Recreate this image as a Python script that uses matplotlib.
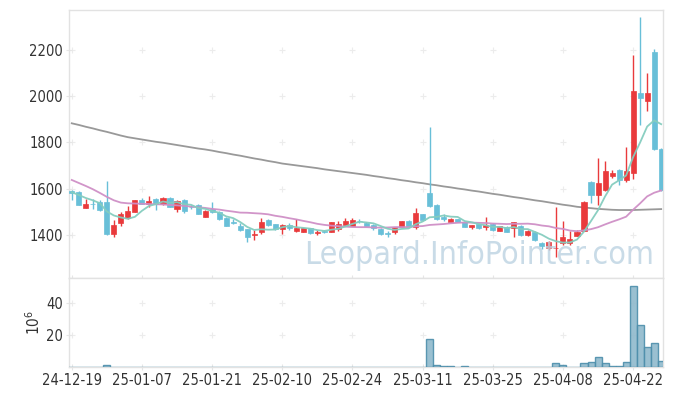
import pandas as pd
import matplotlib
matplotlib.use('Agg')
import matplotlib.pyplot as plt

# daily candles, 24-12-19 .. 25-04-28 (trading days only)
opens = [1590, 1587, 1518, 1535, 1544, 1544, 1404, 1453, 1475, 1501,
         1551, 1534, 1556, 1534, 1559, 1512, 1551, 1522, 1530, 1479,
         1511, 1501, 1474, 1455, 1438, 1425, 1400, 1411, 1465, 1446,
         1425, 1443, 1419, 1414, 1429, 1408, 1419, 1414, 1426, 1443,
         1439, 1461, 1453, 1443, 1428, 1408, 1414, 1436, 1460, 1436,
         1490, 1583, 1530, 1479, 1458, 1469, 1455, 1433, 1448, 1436,
         1447, 1419, 1436, 1429, 1439, 1400, 1414, 1367, 1343, 1342,
         1364, 1364, 1396, 1419, 1630, 1573, 1595, 1653, 1681, 1638,
         1670, 2013, 1981, 2193, 1771]
highs = [1595, 1592, 1554, 1555, 1550, 1633, 1465, 1500, 1525, 1553,
         1560, 1567, 1558, 1565, 1563, 1550, 1555, 1530, 1533, 1506,
         1544, 1505, 1476, 1470, 1450, 1428, 1420, 1472, 1467, 1449,
         1447, 1452, 1469, 1431, 1431, 1420, 1423, 1457, 1460, 1475,
         1475, 1470, 1456, 1449, 1430, 1418, 1436, 1462, 1463, 1515,
         1492, 1866, 1532, 1490, 1472, 1471, 1458, 1445, 1450, 1476,
         1450, 1441, 1438, 1457, 1442, 1422, 1417, 1371, 1375, 1523,
         1462, 1419, 1420, 1546, 1632, 1734, 1720, 1680, 1684, 1782,
         2178, 2341, 2099, 2203, 1775]
lows = [1551, 1528, 1515, 1513, 1505, 1399, 1393, 1440, 1470, 1498,
        1532, 1523, 1508, 1530, 1520, 1500, 1495, 1513, 1489, 1476,
        1495, 1466, 1437, 1447, 1418, 1371, 1377, 1405, 1441, 1420,
        1404, 1421, 1415, 1412, 1403, 1400, 1408, 1412, 1418, 1440,
        1438, 1452, 1437, 1422, 1400, 1392, 1405, 1434, 1437, 1425,
        1463, 1522, 1466, 1462, 1456, 1455, 1433, 1428, 1426, 1420,
        1418, 1416, 1411, 1393, 1397, 1397, 1376, 1339, 1336, 1305,
        1358, 1358, 1394, 1417, 1538, 1530, 1590, 1648, 1616, 1630,
        1640, 1876, 1936, 1768, 1590]
closes = [1583, 1530, 1534, 1533, 1508, 1404, 1443, 1491, 1504, 1551,
          1534, 1547, 1533, 1559, 1523, 1547, 1504, 1520, 1491, 1504,
          1499, 1469, 1440, 1453, 1420, 1393, 1403, 1455, 1443, 1424,
          1443, 1429, 1429, 1429, 1407, 1411, 1412, 1455, 1448, 1460,
          1465, 1459, 1439, 1429, 1403, 1406, 1433, 1460, 1439, 1494,
          1465, 1525, 1469, 1469, 1469, 1458, 1436, 1443, 1430, 1443,
          1421, 1439, 1414, 1455, 1400, 1419, 1378, 1352, 1371, 1345,
          1390, 1381, 1414, 1544, 1573, 1625, 1677, 1670, 1638, 1677,
          2023, 1994, 2013, 1771, 1595]
# volume in millions
volumes = [0.1, 0.1, 0.1, 0.1, 0.1, 0.8, 0.1, 0.1, 0.1, 0.1,
           0.1, 0.1, 0.1, 0.1, 0.1, 0.1, 0.1, 0.1, 0.1, 0.1,
           0.1, 0.1, 0.1, 0.1, 0.1, 0.1, 0.1, 0.1, 0.1, 0.1,
           0.1, 0.1, 0.1, 0.1, 0.1, 0.1, 0.1, 0.1, 0.1, 0.1,
           0.1, 0.1, 0.1, 0.1, 0.1, 0.1, 0.1, 0.1, 0.1, 0.1,
           0.1, 17.2, 0.8, 0.4, 0.3, 0.1, 0.3, 0.1, 0.1, 0.1,
           0.1, 0.1, 0.1, 0.1, 0.1, 0.1, 0.1, 0.1, 0.1, 2.1,
           0.8, 0.1, 0.1, 2.1, 2.9, 5.9, 2.1, 0.3, 0.3, 2.7,
           50.9, 26.3, 12.2, 14.7, 3.6]

# moving averages that need history before the first candle
ma5_head = [1585, 1573, 1560, 1550]
ma20_head = [1638, 1625, 1612, 1598, 1582, 1565, 1550, 1540, 1537, 1536,
             1535, 1534, 1533, 1532, 1530, 1528, 1526, 1523, 1520]
ma120 = [1883, 1876, 1868, 1861, 1853, 1846, 1838, 1830, 1823, 1818,
         1813, 1808, 1803, 1799, 1794, 1789, 1784, 1779, 1774, 1770,
         1765, 1759, 1754, 1748, 1743, 1737, 1731, 1726, 1720, 1715,
         1709, 1705, 1701, 1697, 1693, 1689, 1684, 1680, 1676, 1672,
         1668, 1664, 1660, 1655, 1651, 1646, 1642, 1637, 1633, 1628,
         1624, 1619, 1615, 1610, 1606, 1601, 1597, 1592, 1588, 1583,
         1578, 1574, 1569, 1564, 1560, 1555, 1550, 1546, 1541, 1536,
         1531, 1527, 1522, 1519, 1516, 1513, 1511, 1509, 1508, 1508,
         1508, 1509, 1510, 1511, 1512]

tick_labels = ['24-12-19', '25-01-07', '25-01-21', '25-02-10', '25-02-24',
               '25-03-11', '25-03-25', '25-04-08', '25-04-22']

UP = '#e93a3c'
DOWN = '#68bfd8'

plt.rcParams['font.family'] = ['DejaVu Sans']
plt.rcParams['font.stretch'] = 'condensed'


def plot_chart(output_file='out.png'):
    df = pd.DataFrame({'open': opens, 'high': highs, 'low': lows,
                       'close': closes, 'volume': volumes})
    n = len(df)
    x = list(range(n))

    ma5 = df['close'].rolling(5).mean()
    ma5.iloc[:len(ma5_head)] = ma5_head
    ma20 = df['close'].rolling(20).mean()
    ma20.iloc[:len(ma20_head)] = ma20_head

    fig = plt.figure(figsize=(6.73, 3.96), dpi=100)
    W, H = 673.0, 396.0
    left, right = 69.3, 663.3
    ax = fig.add_axes([left / W, 1 - 278 / H, (right - left) / W, (278 - 10) / H])
    axv = fig.add_axes([left / W, 1 - 366.7 / H, (right - left) / W, (366.7 - 278) / H])

    # candles
    for i, r in df.iterrows():
        up = r['close'] >= r['open']
        c = UP if up else DOWN
        ax.vlines(i, r['low'], r['high'], color=c, linewidth=1, zorder=3)
        lo = min(r['open'], r['close'])
        h = max(abs(r['close'] - r['open']), 1.5)
        ax.bar(i, h, bottom=lo, width=0.72, color=c, edgecolor=c, linewidth=0.5, zorder=4)

    ax.plot(x, ma120, color='#999999', linewidth=1.3, zorder=2)
    ax.plot(x, ma20, color='#cf8fc6', linewidth=1.3, zorder=5, alpha=0.95)
    ax.plot(x, ma5, color='#85cdbf', linewidth=1.3, zorder=5, alpha=0.95)

    ax.text(0.985, 0.025, 'Leopard.InfoPointer.com', transform=ax.transAxes,
            ha='right', va='bottom', fontsize=23, color='#bcd3e2', alpha=0.8,
            zorder=6)

    xt = [k * 10 for k in range(len(tick_labels))]
    ax.set_xlim(-0.35, 84.3)
    ax.set_ylim(1214, 2373)
    yt = [1400, 1600, 1800, 2000, 2200]
    ax.set_yticks(yt)
    ax.set_xticks(xt)
    ax.set_xticklabels([])

    # volume
    axv.bar(x, df['volume'], width=1.0, color='#8fb9cc', edgecolor='#4d8eab',
            linewidth=1, alpha=0.9, zorder=3)
    axv.set_xlim(-0.35, 84.3)
    axv.set_ylim(0, 55.8)
    vt = [20, 40]
    axv.set_yticks(vt)
    axv.set_xticks(xt)
    axv.set_xticklabels(tick_labels)
    axv.set_ylabel(r'$10^6$', fontsize=11, color='#333333', labelpad=2)

    for a, yticks in ((ax, yt), (axv, vt)):
        for s in a.spines.values():
            s.set_color('#e2e2e2')
            s.set_linewidth(1)
        a.tick_params(direction='inout', length=5, width=0.8, color='#e6e6e6',
                      labelcolor='#333333', labelsize=10.5, pad=2)
        gx = [p for p in xt for _ in yticks]
        gy = [q for _ in xt for q in yticks]
        a.scatter(gx, gy, marker='+', s=14, color='#ececec', linewidths=0.8, zorder=1)

    fig.savefig(output_file, dpi=100)


if __name__ == '__main__':
    plot_chart()
